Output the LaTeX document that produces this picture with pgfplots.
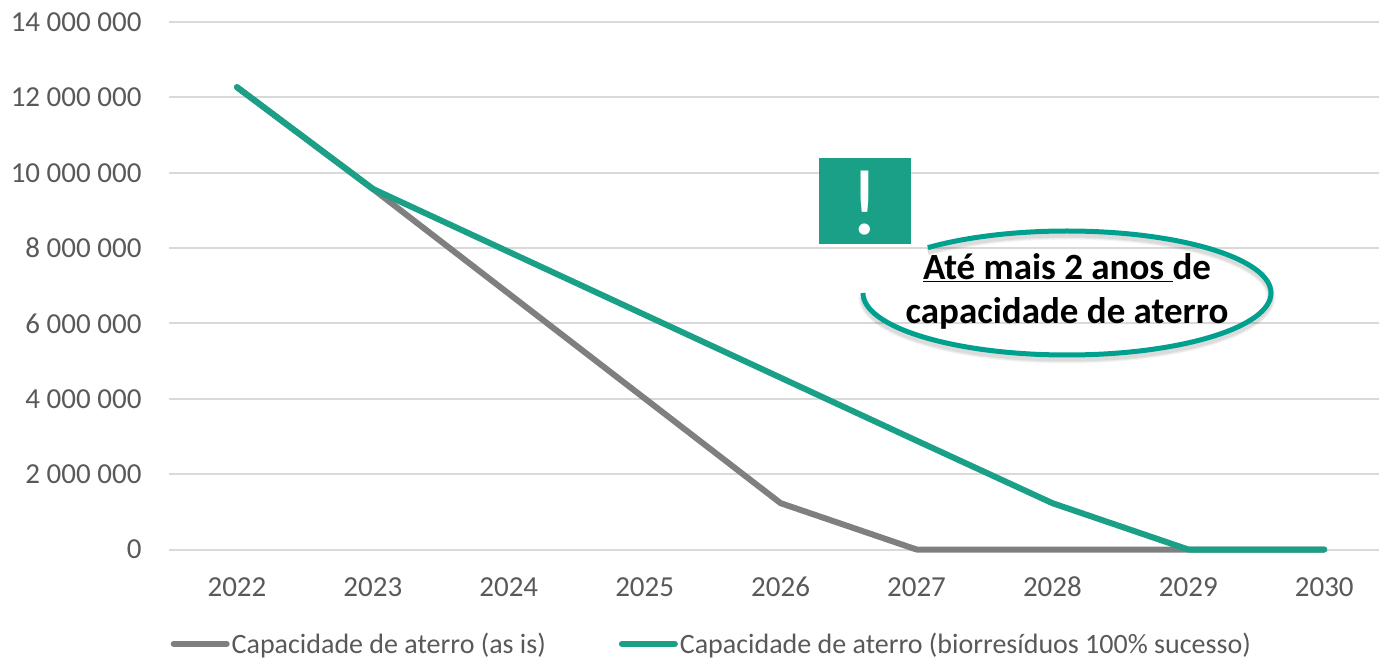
\documentclass[border=0pt]{standalone}
\usepackage{pgfplots}
\pgfplotsset{compat=1.18}
\usepackage{fontspec}
\setmainfont{Carlito}
\definecolor{txt}{HTML}{595959}
\definecolor{gridc}{HTML}{D9D9D9}
\definecolor{grayl}{HTML}{7F7F7F}
\definecolor{greenl}{HTML}{1BA088}
\definecolor{ell}{HTML}{00A08F}
\begin{document}
\begin{tikzpicture}[x=1pt,y=1pt]
\path[use as bounding box] (0,0) rectangle (1379,659);
\begin{axis}[
  at={(169pt,109.5pt)}, anchor=south west,
  scale only axis, width=1210pt, height=527.5pt,
  xmin=-0.5, xmax=8.403, ymin=0, ymax=14000000,
  axis line style={draw=none},
  major tick style={draw=none},
  ymajorgrids, grid style={gridc,line width=2pt},
  scaled y ticks=false,
  xtick={0,...,8},
  xticklabels={2022,2023,2024,2025,2026,2027,2028,2029,2030},
  ytick={0,2000000,4000000,6000000,8000000,10000000,12000000,14000000},
  yticklabels={0,2 000 000,4 000 000,6 000 000,8 000 000,10 000 000,12 000 000,14 000 000},
  tick label style={font=\fontsize{29}{34}\selectfont,text=txt},
  yticklabel style={xshift=-24pt},
  xticklabel style={anchor=base,yshift=-47pt},
  clip=false,
  legend columns=2,
  legend style={at={(1.5pt,-107.5pt)},anchor=south west,draw=none,fill=none,
    font=\fontsize{28}{33}\selectfont,text=txt,
    inner xsep=0pt,inner ysep=0pt,
    /tikz/every even column/.append style={column sep=71pt}},
  legend image code/.code={\draw[#1,line cap=round] (0pt,0pt) -- (53pt,0pt);},
]
\addplot[grayl,line width=6pt,line join=round,line cap=round] coordinates {
 (0,12270000) (1,9570000) (2,6790000) (3,4010000) (4,1230000) (5,0) (6,0) (7,0) (8,0)};
\addlegendentry{Capacidade de aterro (as is)}
\addplot[greenl,line width=6pt,line join=round,line cap=round] coordinates {
 (0,12270000) (1,9570000) (2,7900000) (3,6230000) (4,4560000) (5,2890000) (6,1230000) (7,0) (8,0)};
\addlegendentry{Capacidade de aterro (biorresíduos 100\% sucesso)}
\end{axis}
% alert square
\fill[greenl] (819,415) rectangle (911,501);
\node[text=white,font=\fontsize{94}{94}\selectfont,anchor=center] at (865,456) {!};
% ellipse with soft shadow
\foreach \w/\o in {9/0.04,7/0.05,5/0.06}{
\draw[black,opacity=\o,line width=\w pt] (863,362) arc[start angle=180,end angle=493,x radius=204,y radius=62];}
\draw[ell,line width=5pt] (863,366) arc[start angle=180,end angle=493,x radius=204,y radius=62];
% text
\node[font=\fontsize{37}{44}\selectfont\bfseries,text=black,align=center,anchor=center] at (1067,368) {\underline{Até mais 2 anos }de\\capacidade de aterro};
\end{tikzpicture}
\end{document}
